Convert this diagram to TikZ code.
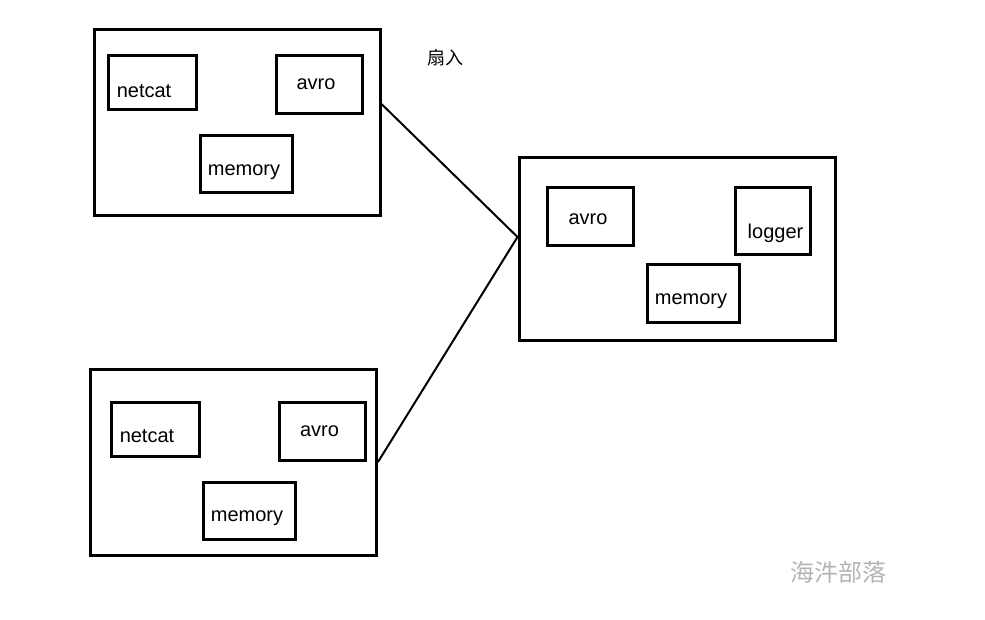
\documentclass[tikz,border=0pt]{standalone}
\usepackage{fontspec}
\setmainfont{Liberation Sans}
\newfontfamily\cjk{Noto Sans CJK SC}
\usepackage{xcolor}
\usepackage{tikz}
\usetikzlibrary{positioning}
\definecolor{markgray}{HTML}{B4B4B4}
\tikzset{
  agent/.style={draw, line width=1.5pt, minimum width=143pt, minimum height=93pt, inner sep=0pt},
  comp/.style={draw, line width=1.5pt, inner sep=0pt},
  tag/.style={font=\fontsize{10}{12}\selectfont, inner sep=0pt},
  link/.style={line width=1pt},
  note/.style={font=\cjk\fontsize{9}{11}\selectfont},
  brandmark/.style={font=\cjk\fontsize{12}{14}\selectfont, text=markgray},
}
\begin{document}
\begin{tikzpicture}[x=0.5pt, y=-0.5pt]
  \useasboundingbox (0,0) rectangle (985,620);
  % two sending agents
  \node[agent] (up) at (237,123) {};
  \node[comp, minimum width=44pt, minimum height=27pt,
        label={[tag, xshift=-4pt, yshift=-4pt]center:netcat}] (upsrc) at (152,83) {};
  \node[comp, minimum width=43pt, minimum height=29pt,
        label={[tag, xshift=-1.5pt, yshift=0.5pt]center:avro}] (upsink) at (319,85) {};
  \node[comp, minimum width=46pt, minimum height=28.5pt,
        label={[tag, xshift=-1pt, yshift=-4pt]center:memory}] (upch) at (246,164.5) {};
  \node[agent] (lo) at (233.5,462) {};
  \node[comp, minimum width=44pt, minimum height=27pt,
        label={[tag, xshift=-4pt, yshift=-3.5pt]center:netcat}] (losrc) at (155,429) {};
  \node[comp, minimum width=43pt, minimum height=29pt,
        label={[tag, xshift=-1.25pt]center:avro}] (losink) at (322,431) {};
  \node[comp, minimum width=46pt, minimum height=28.5pt,
        label={[tag, xshift=-1pt, yshift=-4pt]center:memory}] (loch) at (249,510.5) {};
  % collecting agent
  \node[agent, minimum width=158pt, minimum height=91pt] (col) at (677,249) {};
  \node[comp, minimum width=43pt, minimum height=29pt,
        label={[tag, xshift=-1pt, yshift=-1pt]center:avro}] (colsrc) at (590,217) {};
  \node[comp, minimum width=37.5pt, minimum height=33.5pt,
        label={[tag, xshift=1.5pt, yshift=-6pt]center:logger}] (colsink) at (772.5,221.5) {};
  \node[comp, minimum width=46pt, minimum height=28.5pt,
        label={[tag, xshift=-1pt, yshift=-4pt]center:memory}] (colch) at (693,293.5) {};
  \coordinate (fan) at ([yshift=6pt]col.west);
  \draw[link] ([yshift=9.5pt]up.east) -- (fan);
  \draw[link] (lo.east) -- (fan);
  \node[note] (fanin) at (445,58) {扇入};
  \node[brandmark] (brand) at (838,572) {海汼部落};
\end{tikzpicture}
\end{document}
